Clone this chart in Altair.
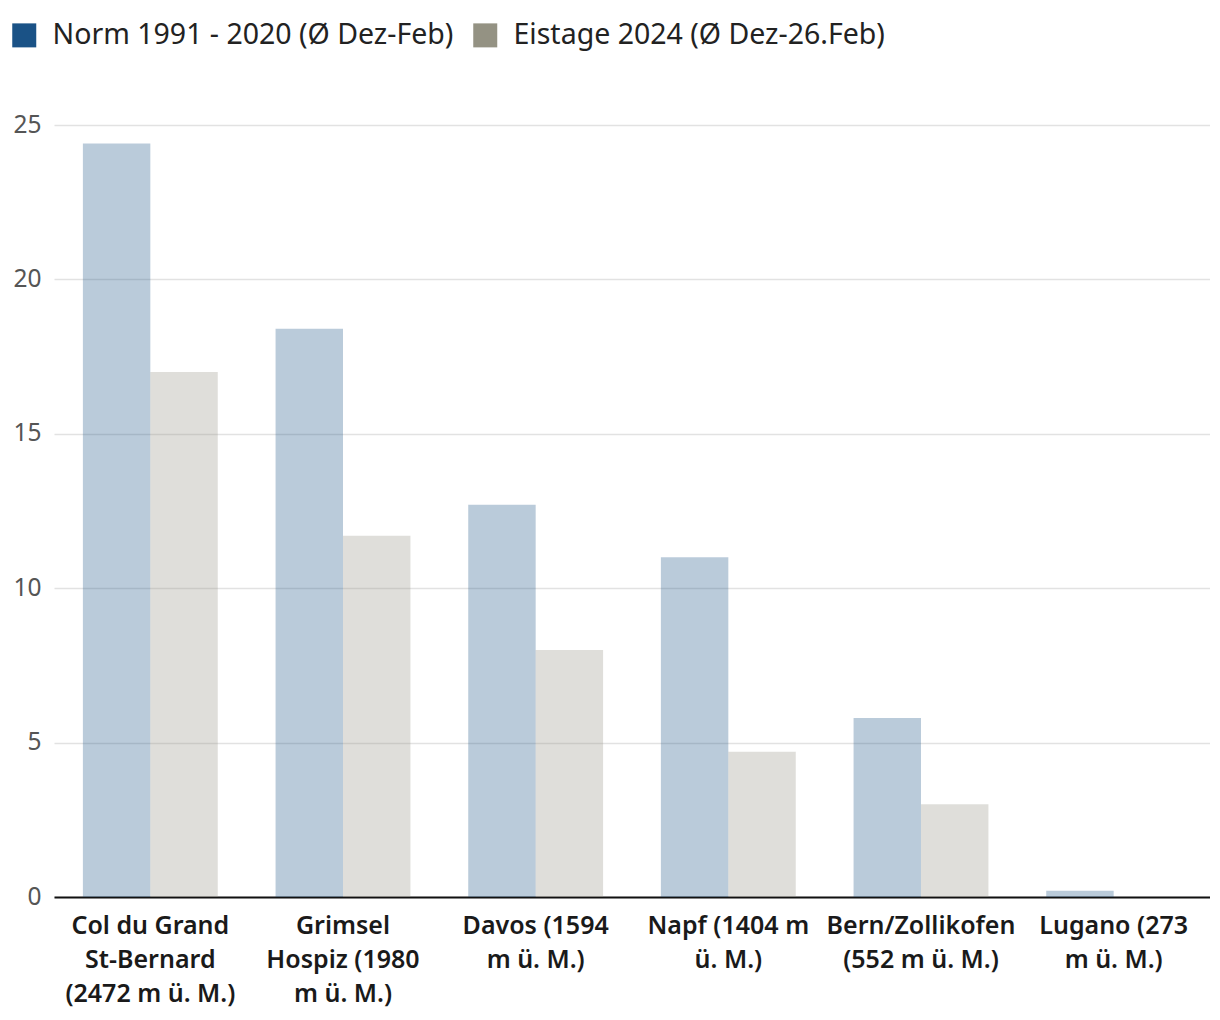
import altair as alt
import pandas as pd

stations = [
    "Col du Grand|St-Bernard|(2472 m ü. M.)",
    "Grimsel|Hospiz (1980|m ü. M.)",
    "Davos (1594|m ü. M.)",
    "Napf (1404 m|ü. M.)",
    "Bern/Zollikofen|(552 m ü. M.)",
    "Lugano (273|m ü. M.)",
]
series_names = ["Norm 1991 - 2020 (Ø Dez-Feb)", "Eistage 2024 (Ø Dez-26.Feb)"]
norm_values = [24.4, 18.4, 12.7, 11.0, 5.8, 0.2]
ice_values = [17.0, 11.7, 8.0, 4.7, 3.0, 0.0]
series_colors = ["#1a5286", "#949283"]
y_ticks = [0, 5, 10, 15, 20, 25]

rows = []
for s, a, b in zip(stations, norm_values, ice_values):
    rows.append({"station": s, "series": series_names[0], "value": a})
    rows.append({"station": s, "series": series_names[1], "value": b})
df = pd.DataFrame(rows)

FONT = "Noto Sans"

chart = (
    alt.Chart(df)
    .mark_bar(opacity=0.3)
    .encode(
        x=alt.X(
            "station:N",
            sort=stations,
            title=None,
            scale=alt.Scale(paddingInner=0.3, paddingOuter=0.15),
            axis=alt.Axis(
                labelExpr="split(datum.label, '|')",
                labelAngle=0,
                labelFont=FONT,
                labelFontSize=25,
                labelFontWeight=600,
                labelColor="#1a1a1a",
                labelLineHeight=34,
                labelPadding=16,
                labelLimit=400,
                ticks=False,
                domainColor="#111111",
                domainWidth=2,
                labelBaseline="top",
            ),
        ),
        xOffset=alt.XOffset("series:N", sort=series_names),
        y=alt.Y(
            "value:Q",
            title=None,
            scale=alt.Scale(domain=[0, 25], nice=False),
            axis=alt.Axis(
                values=y_ticks,
                labelFont=FONT,
                labelFontSize=24.5,
                labelColor="#555555",
                labelPadding=13,
                ticks=False,
                domain=False,
                gridColor="#e2e2e2",
                gridWidth=1.5,
            ),
        ),
        color=alt.Color(
            "series:N",
            sort=series_names,
            scale=alt.Scale(domain=series_names, range=series_colors),
            legend=alt.Legend(
                title=None,
                orient="none",
                legendX=-44,
                legendY=-104,
                direction="horizontal",
                symbolType="square",
                symbolSize=576,
                symbolOpacity=1,
                symbolStrokeWidth=0,
                labelFont=FONT,
                labelFontSize=28.5,
                labelColor="#222222",
                labelOffset=14,
                columnPadding=17,
                labelLimit=600,
            ),
        ),
    )
    .properties(
        width=1156,
        height=772,
        autosize=alt.AutoSizeParams(type="none"),
        padding={"left": 46, "top": 117, "right": 0, "bottom": 112},
    )
    .configure_view(stroke=None)
)

chart.save("out.html", embed_options={"renderer": "svg", "actions": False})
